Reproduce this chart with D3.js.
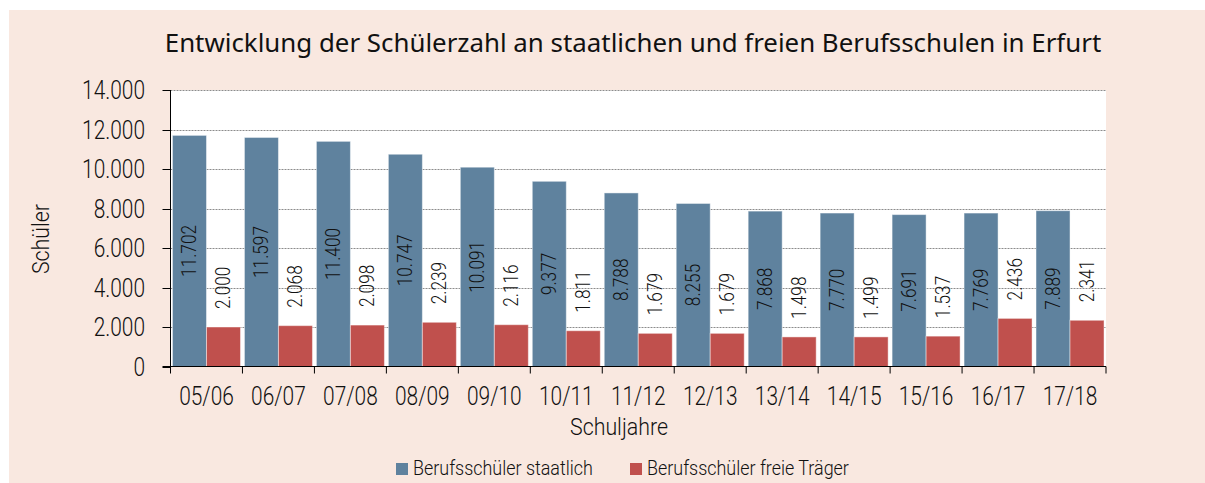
<!DOCTYPE html>
<html>
<head>
<meta charset="utf-8">
<script src="https://cdn.jsdelivr.net/npm/d3@7"></script>
<style>
  body { margin: 0; background: #ffffff; }
  svg { display: block; }
  text { font-family: Roboto, 'Noto Sans', sans-serif; font-weight: 300; fill: #111111; }
</style>
</head>
<body>
<script>
const years = ['05/06', '06/07', '07/08', '08/09', '09/10', '10/11', '11/12', '12/13', '13/14', '14/15', '15/16', '16/17', '17/18'];
const staatlich = [11702, 11597, 11400, 10747, 10091, 9377, 8788, 8255, 7868, 7770, 7691, 7769, 7889];
const freieTraeger = [2000, 2068, 2098, 2239, 2116, 1811, 1679, 1679, 1498, 1499, 1537, 2436, 2341];
const yTicks = [0, 2000, 4000, 6000, 8000, 10000, 12000, 14000];
const seriesNames = ['Berufsschüler staatlich', 'Berufsschüler freie Träger'];

const width = 1205, height = 483;
const plot = { left: 170.5, right: 1106, top: 90, bottom: 366.5 };
const colors = ['#5f829e', '#c0504d'];
const fmt = d3.format(',');
const de = v => fmt(v).replace(/,/g, '.');

const svg = d3.select('body').append('svg')
  .attr('width', width).attr('height', height);

// measure how much to squeeze Roboto so it looks like the condensed original
function squeeze(str, size, target) {
  const t = svg.append('text').style('font-size', size + 'px').text(str);
  const w = t.node().getComputedTextLength();
  t.remove();
  return target / w;
}
const fTick = squeeze('14.000', 25, 63);
const fVal = squeeze('11.702', 21, 52);
const fLeg = squeeze('Berufsschüler staatlich', 20, 180);
const fAxis = squeeze('Schuljahre', 24, 98);

svg.append('rect').attr('x', 9).attr('y', 10)
  .attr('width', width - 9).attr('height', height - 10)
  .attr('fill', '#f9e8e0');

svg.append('rect').attr('x', plot.left).attr('y', plot.top)
  .attr('width', plot.right - plot.left).attr('height', plot.bottom - plot.top)
  .attr('fill', '#ffffff');

const x = d3.scaleBand().domain(years).range([plot.left, plot.right]).paddingInner(0.055).paddingOuter(0.0275);
const xAxisScale = d3.scaleBand().domain(years).range([plot.left, plot.right]);
const sub = d3.scaleBand().domain([0, 1]).range([0, x.bandwidth()]);
const y = d3.scaleLinear().domain([0, 14000]).range([plot.bottom, plot.top]);

// grid
svg.append('g').selectAll('line').data(yTicks.slice(1)).enter().append('line')
  .attr('x1', plot.left).attr('x2', plot.right)
  .attr('y1', d => Math.round(y(d)) + 0.5).attr('y2', d => Math.round(y(d)) + 0.5)
  .attr('stroke', '#8c8c8c').attr('stroke-width', 1).attr('stroke-dasharray', '2,1');

const data = years.map((yr, i) => ({ yr, vals: [staatlich[i], freieTraeger[i]] }));

const groups = svg.append('g').selectAll('g').data(data).enter().append('g')
  .attr('transform', d => `translate(${x(d.yr)},0)`);

groups.selectAll('rect').data(d => d.vals.map((v, k) => ({ v, k }))).enter().append('rect')
  .attr('x', d => sub(d.k))
  .attr('y', d => y(d.v))
  .attr('width', sub.bandwidth())
  .attr('height', d => y(0) - y(d.v))
  .attr('fill', d => colors[d.k])
  .attr('stroke', 'rgba(255,255,255,0.45)')
  .attr('stroke-width', 1);

// value labels
groups.selectAll('text.val').data(d => d.vals.map((v, k) => ({ v, k }))).enter().append('text')
  .attr('class', 'val')
  .attr('transform', d => {
    const cx = sub(d.k) + sub.bandwidth() / 2 + 7;
    const cy = d.k === 0 ? (y(d.v) + y(0)) / 2 : y(d.v) - 18;
    return `translate(${cx},${cy}) rotate(-90) scale(${fVal},1)`;
  })
  .attr('text-anchor', d => d.k === 0 ? 'middle' : 'start')
  .style('font-size', '21px')
  .text(d => de(d.v));

// y axis
const yAxis = svg.append('g');
yAxis.append('line').attr('x1', plot.left).attr('x2', plot.left)
  .attr('y1', plot.top).attr('y2', plot.bottom).attr('stroke', '#000');
yAxis.selectAll('line.t').data(yTicks).enter().append('line')
  .attr('x1', plot.left - 8).attr('x2', plot.left)
  .attr('y1', d => Math.round(y(d)) + 0.5).attr('y2', d => Math.round(y(d)) + 0.5)
  .attr('stroke', '#000');
yAxis.selectAll('text').data(yTicks).enter().append('text')
  .attr('transform', d => `translate(145,${y(d)}) scale(${fTick},1)`)
  .attr('dy', '0.36em').attr('text-anchor', 'end')
  .style('font-size', '25px')
  .text(d => de(d));

// x axis
const xAxis = svg.append('g');
xAxis.append('line').attr('x1', plot.left - 8).attr('x2', plot.right)
  .attr('y1', plot.bottom).attr('y2', plot.bottom).attr('stroke', '#000');
xAxis.selectAll('line.t').data(years.concat(['end'])).enter().append('line')
  .attr('x1', (d, i) => plot.left + i * xAxisScale.step())
  .attr('x2', (d, i) => plot.left + i * xAxisScale.step())
  .attr('y1', plot.bottom).attr('y2', plot.bottom + 7)
  .attr('stroke', '#000');
xAxis.selectAll('text').data(years).enter().append('text')
  .attr('transform', d => `translate(${xAxisScale(d) + xAxisScale.bandwidth() / 2},405) scale(${fTick},1)`)
  .attr('text-anchor', 'middle')
  .style('font-size', '25px')
  .text(d => d);

// axis titles
svg.append('text').attr('transform', `translate(619,435) scale(${fAxis},1)`).attr('text-anchor', 'middle')
  .style('font-size', '24px').text('Schuljahre');
svg.append('text').attr('transform', `translate(49,239) rotate(-90) scale(${fAxis},1)`).attr('text-anchor', 'middle')
  .style('font-size', '24px').text('Schüler');

// title
const title = svg.append('text').attr('x', 633).attr('y', 52).attr('text-anchor', 'middle')
  .style('font-family', "'Noto Sans', 'Open Sans', sans-serif")
  .style('font-size', '26px').style('font-weight', '400')
  .text('Entwicklung der Schülerzahl an staatlichen und freien Berufsschulen in Erfurt');
const tl = title.node().getComputedTextLength();
title.style('font-size', (26 * 937 / tl) + 'px');

// legend
const legendX = [396, 630];
const legend = svg.append('g').selectAll('g').data(seriesNames).enter().append('g')
  .attr('transform', (d, i) => `translate(${legendX[i]},463)`);
legend.append('rect').attr('width', 12).attr('height', 12).attr('fill', (d, i) => colors[i]);
legend.append('text').attr('transform', `translate(17,12) scale(${fLeg},1)`)
  .style('font-size', '20px').text(d => d);
</script>
</body>
</html>
